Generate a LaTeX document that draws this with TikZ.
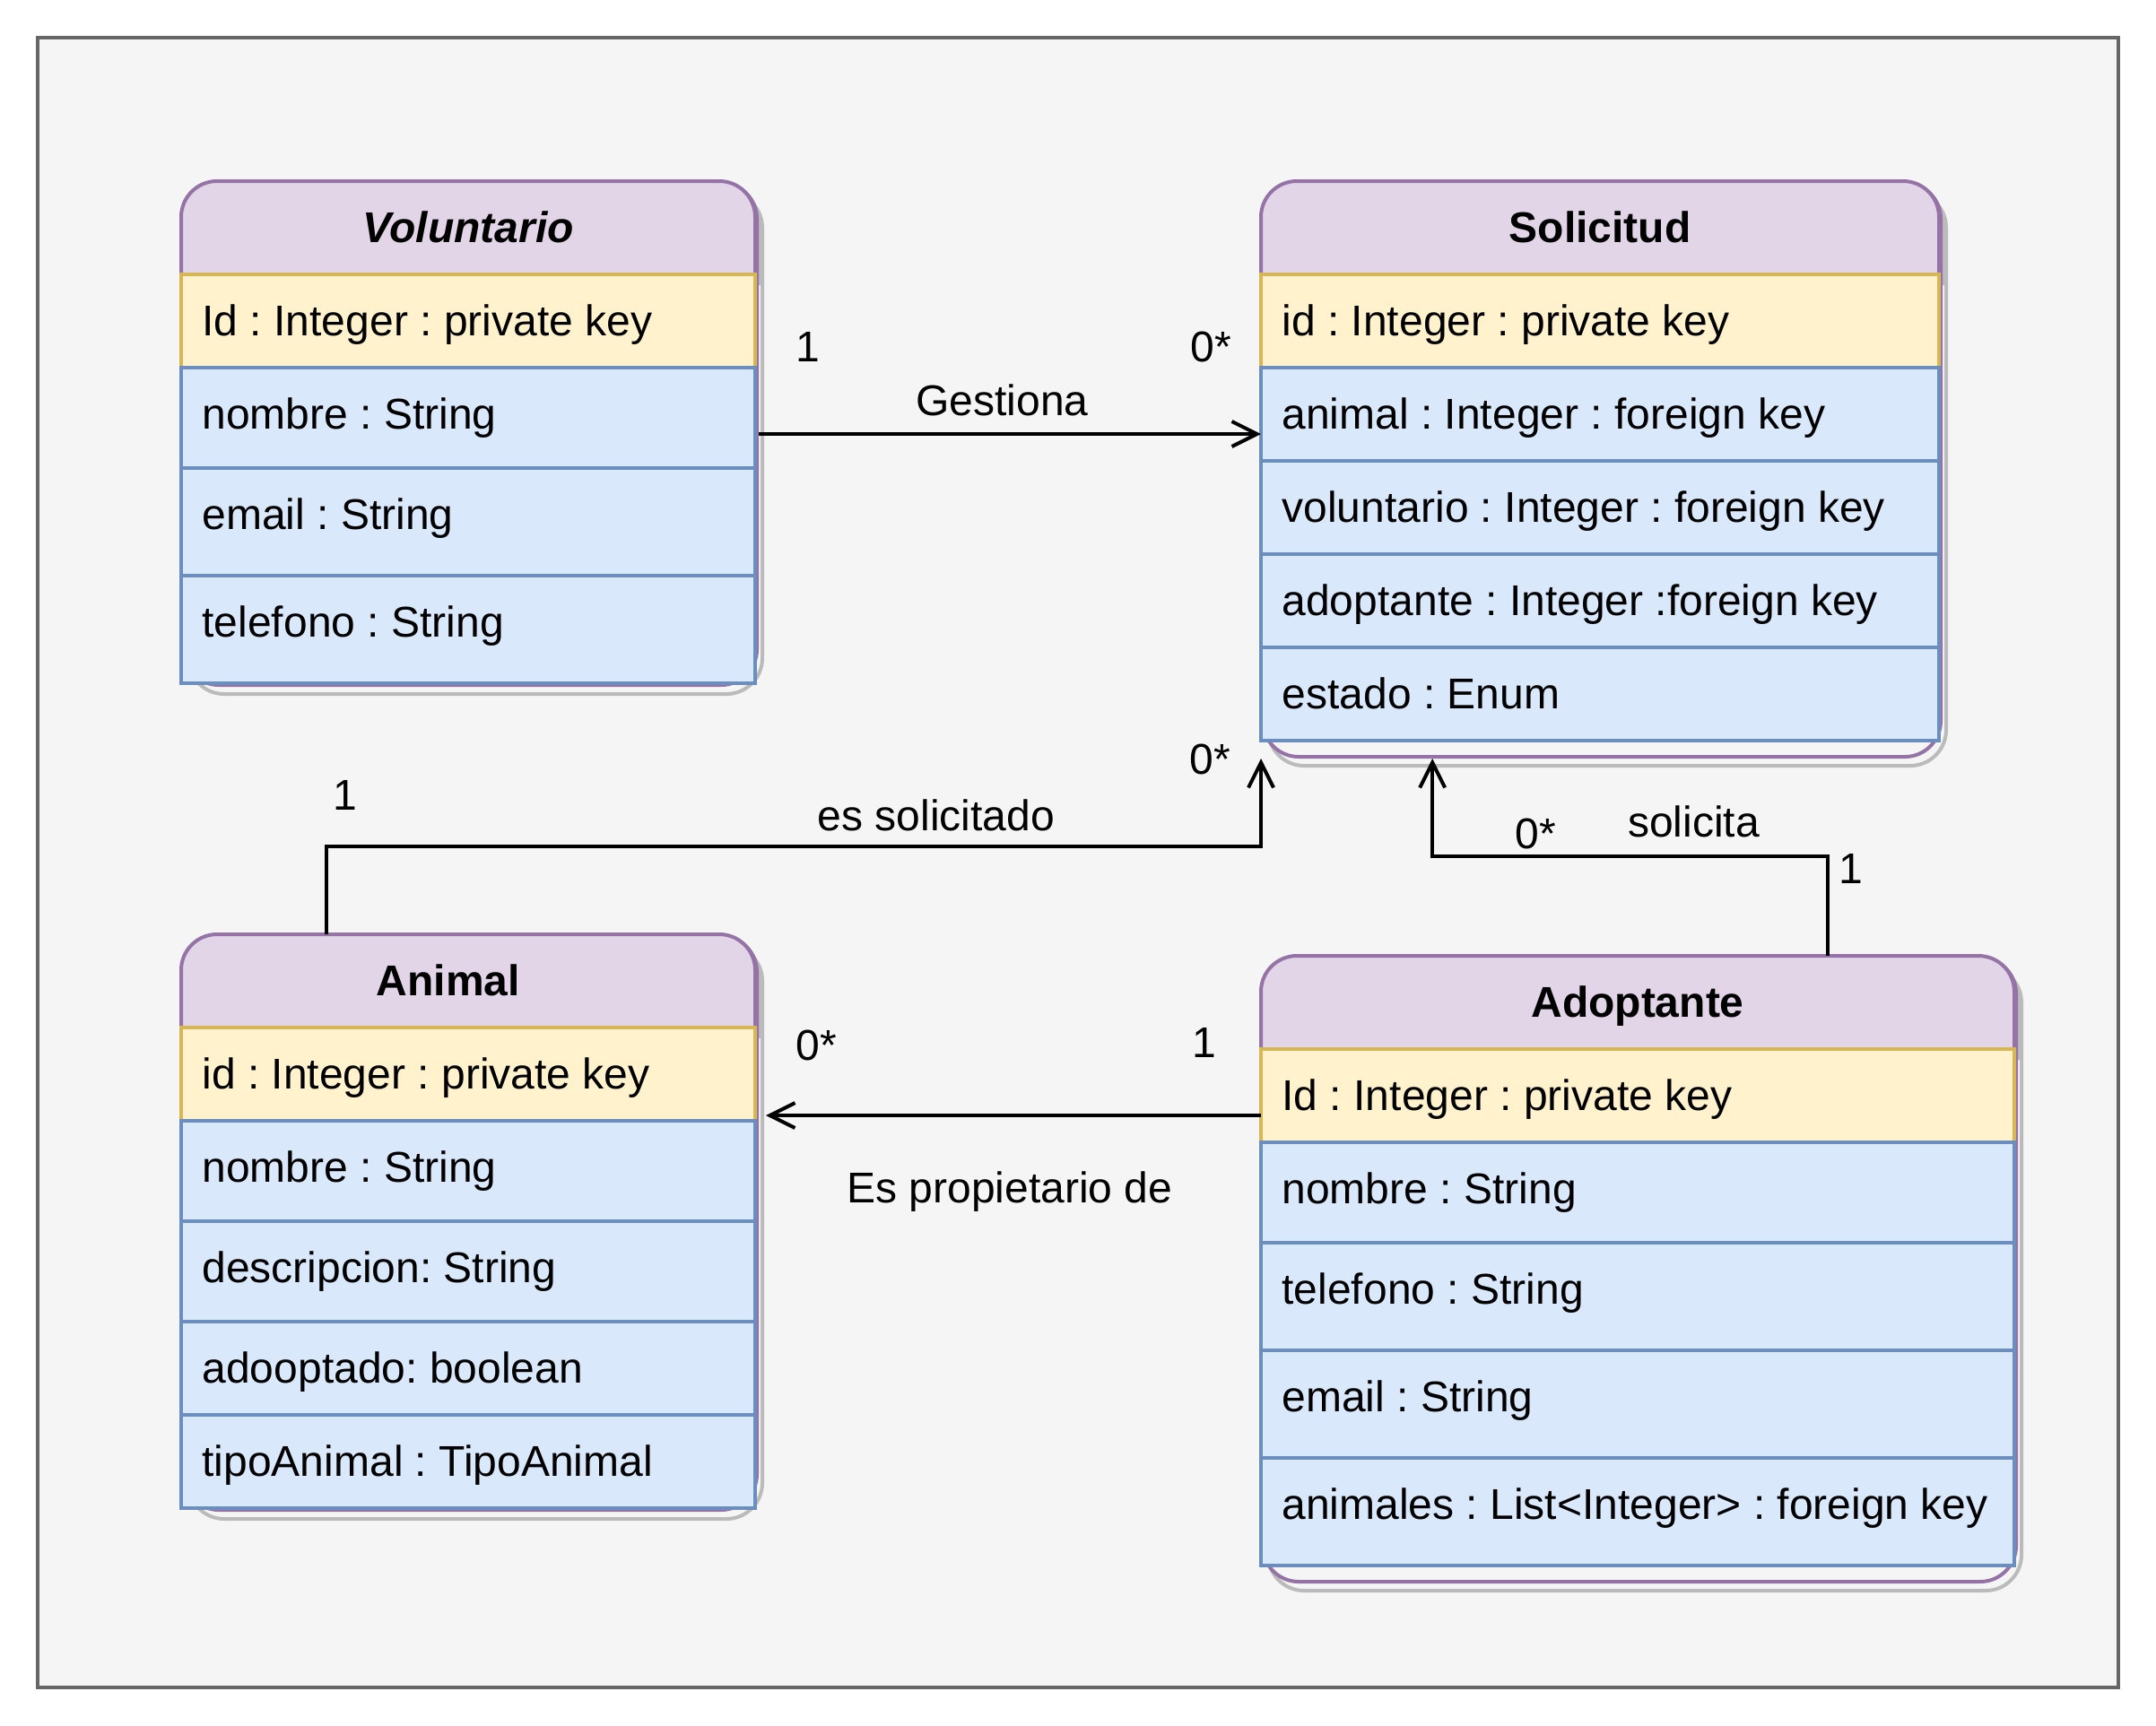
\documentclass[tikz,border=0pt]{standalone}
\usepackage{fontspec}
\setmainfont{Liberation Sans}
\frenchspacing
\usetikzlibrary{arrows.meta,calc}
\definecolor{fondo}{HTML}{F5F5F5}
\definecolor{marco}{HTML}{666666}
\definecolor{lila}{HTML}{E1D5E7}
\definecolor{lilaborde}{HTML}{9673A6}
\definecolor{amarillo}{HTML}{FFF2CC}
\definecolor{amarilloborde}{HTML}{D6B656}
\definecolor{azul}{HTML}{DAE8FC}
\definecolor{azulborde}{HTML}{6C8EBF}
\definecolor{gris}{HTML}{BBBBBB}
\begin{document}
\begin{tikzpicture}[x=2pt,y=-2pt,>={Straight Barb[length=14pt,width=14pt]},
    every node/.style={font=\fontsize{24}{29}\selectfont,inner sep=0pt,text height=21.7pt,text depth=5.1pt},
    tabla/.style={draw=lilaborde,line width=2pt,rounded corners=20pt,anchor=north west},
    cabecera/.style={draw=lilaborde,fill=lila,line width=2pt},
    clave/.style={draw=amarilloborde,fill=amarillo,line width=2pt},
    fila/.style={draw=azulborde,fill=azul,line width=2pt},
    sombra/.style={draw=gris,line width=2pt,rounded corners=20pt},
    campo/.style={anchor=west},
    rel/.style={->,line width=2pt}]
\useasboundingbox (0,0) rectangle (601,481);
\draw[line width=2pt,draw=marco,fill=fondo](10.5,10.5) rectangle (590.5,470.5);
% sombras
\foreach \l/\t/\r/\b in {50.5/50.5/210.5/190.5,351.5/50.5/540.5/210.5,50.5/260.5/210.5/420.5,351.5/266.5/561.5/440.5}{
  \fill[gris]({\l+2},{\t+29}) [rounded corners=20pt] -- ({\l+2},{\t+3}) -- ({\r+2},{\t+3}) [sharp corners] -- ({\r+2},{\t+29}) -- cycle;
  \draw[sombra]({\l+2},{\t+3}) rectangle ({\r+2},{\b+3});
}
% tablas
\node[tabla,minimum width=320pt,minimum height=280pt] (vol) at (50.5,50.5) {};
\node[tabla,minimum width=378pt,minimum height=320pt] (sol) at (351.5,50.5) {};
\node[tabla,minimum width=320pt,minimum height=320pt] (ani) at (50.5,260.5) {};
\node[tabla,minimum width=420pt,minimum height=348pt] (ado) at (351.5,266.5) {};
\foreach \l/\t/\r in {50.5/50.5/210.5,351.5/50.5/540.5,50.5/260.5/210.5,351.5/266.5/561.5}
  \draw[cabecera](\l,{\t+26}) [rounded corners=20pt] -- (\l,\t) -- (\r,\t) [sharp corners] -- (\r,{\t+26}) -- cycle;
\node (vol-t) at (130.5,63.5) {\bfseries\itshape Voluntario};
\node (sol-t) at (446,63.5) {\bfseries Solicitud};
\node (ani-t) at (125,273.5) {\bfseries Animal};
\node (ado-t) at (456.5,279.5) {\bfseries Adoptante};
% Voluntario
\draw[clave](50.5,76.5) rectangle (210.5,102.5);
\node[campo] (vol1) at (56.3,89.5) {Id : Integer : private key};
\foreach \ya/\yb/\txt [count=\i from 2] in {102.5/130.5/nombre : String,130.5/160.5/email : String,160.5/190.5/telefono : String}{
  \draw[fila](50.5,\ya) rectangle (210.5,\yb);
  \node[campo] (vol\i) at (56.3,{\ya+13}) {\txt};
}
% Solicitud
\draw[clave](351.5,76.5) rectangle (540.5,102.5);
\node[campo] (sol1) at (357.3,89.5) {id : Integer : private key};
\foreach \ya/\yb/\txt [count=\i from 2] in {102.5/128.5/animal : Integer : foreign key,128.5/154.5/voluntario : Integer : foreign key,154.5/180.5/adoptante : Integer :foreign key,180.5/206.5/estado : Enum}{
  \draw[fila](351.5,\ya) rectangle (540.5,\yb);
  \node[campo] (sol\i) at (357.3,{\ya+13}) {\txt};
}
% Animal
\draw[clave](50.5,286.5) rectangle (210.5,312.5);
\node[campo] (ani1) at (56.3,299.5) {id : Integer : private key};
\foreach \ya/\yb/\txt [count=\i from 2] in {312.5/340.5/nombre : String,340.5/368.5/descripcion: String,368.5/394.5/adooptado: boolean,394.5/420.5/tipoAnimal : TipoAnimal}{
  \draw[fila](50.5,\ya) rectangle (210.5,\yb);
  \node[campo] (ani\i) at (56.3,{\ya+13}) {\txt};
}
% Adoptante
\draw[clave](351.5,292.5) rectangle (561.5,318.5);
\node[campo] (ado1) at (357.3,305.5) {Id : Integer : private key};
\foreach \ya/\yb/\txt [count=\i from 2] in {318.5/346.5/nombre : String,346.5/376.5/telefono : String,376.5/406.5/email : String,406.5/436.5/animales : List<Integer> : foreign key}{
  \draw[fila](351.5,\ya) rectangle (561.5,\yb);
  \node[campo] (ado\i) at (357.3,{\ya+13}) {\txt};
}
% relaciones
\draw[rel](vol.east)--(vol.east -| sol.west);
\node (g1) at (225.3,96.7) {1};
\node (g2) at (337.6,96.7) {0*};
\node (gest) at (279.4,111.7) {Gestiona};
\draw[rel]([xshift=81pt]ani.north west)--++(0,-24.6)-|(sol.south west);
\node (s1) at (96.3,221.8) {1};
\node (s2) at (337.3,211.6) {0*};
\node (soli) at (261,227.5) {es solicitado};
\draw[rel]([xshift=316pt]ado.north west)--++(0,-27.7)-|([xshift=95.6pt]sol.south west);
\node (a2) at (428.1,232.4) {0*};
\node (sta) at (472.1,229.3) {solicita};
\node (a1) at (515.9,242.2) {1};
\coordinate (prop) at ([yshift=-89pt]ado.north west);
\draw[rel](prop)--($(prop -| ani.east)+(2,0)$);
\node (p2) at (227.6,291.5) {0*};
\node (p1) at (335.6,290.7) {1};
\node (esp) at (281.5,331.2) {Es propietario de};
\end{tikzpicture}
\end{document}
